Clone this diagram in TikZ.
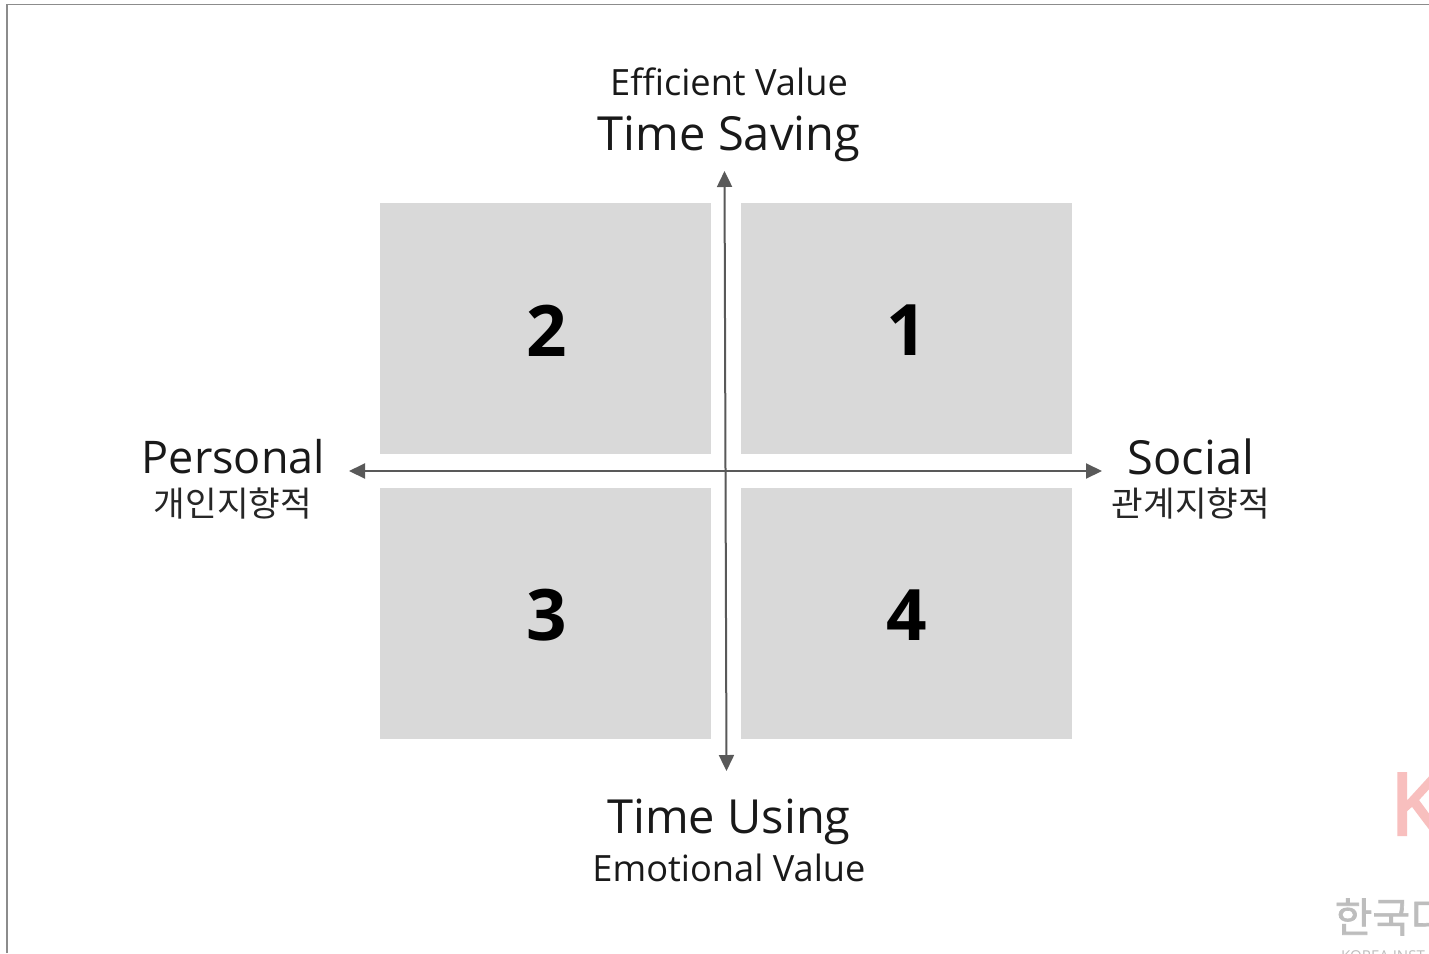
\documentclass[tikz,border=0pt]{standalone}
\usepackage{fontspec}
\setmainfont{Open Sans}
\newfontfamily\krfont{Noto Sans CJK KR}
\newfontfamily\logokr[FakeBold=1.5]{Noto Sans CJK KR}
\newfontfamily\logofont[FakeBold=3]{Open Sans}
\usetikzlibrary{arrows.meta}
\definecolor{boxgray}{HTML}{D9D9D9}
\definecolor{axisgray}{HTML}{595959}
\definecolor{logopink}{HTML}{F8BFBE}
\definecolor{logogray}{HTML}{BDBDBD}
\tikzset{
  quad/.style={fill=boxgray,draw=none,minimum width=331pt,minimum height=251pt,inner sep=0pt},
  digit/.style={font=\fontsize{71}{71}\selectfont\bfseries,text=black,inner sep=0pt},
  axisline/.style={draw=axisgray,line width=2pt,{Triangle[length=16pt,width=15pt]}-{Triangle[length=16pt,width=15pt]}},
  big/.style={font=\fontsize{47}{47}\selectfont,inner sep=0pt,text=black!90},
  bigb/.style={font=\fontsize{45}{45}\selectfont,inner sep=0pt,text=black!90},
  small/.style={font=\fontsize{36.2}{36.2}\selectfont,inner sep=0pt,text=black!90},
  kr/.style={font=\fontsize{34.4}{34.4}\selectfont\krfont,inner sep=0pt,text=black!85},
}
\begin{document}
\begin{tikzpicture}[x=1pt,y=-1pt]
\useasboundingbox (0,0) rectangle (1429,953);
\clip (0,0) rectangle (1429,953);
\fill[white] (0,0) rectangle (1429,953);
\draw[draw=black!45,line width=1.4pt] (7,953) -- (7,4.5) -- (1429,4.5);
\node[quad] (q2) at (545.5,328.5) {};
\node[quad] (q1) at (906.5,328.5) {};
\node[quad] (q3) at (545.5,613.5) {};
\node[quad] (q4) at (906.5,613.5) {};
\node[digit] (d2) at (546.5,330.5) {2};
\node[digit] (d1) at (906.5,330.5) {1};
\node[digit] (d3) at (546.5,615.5) {3};
\node[digit] (d4) at (907,615.5) {4};
\coordinate (top) at (724.5,171);
\coordinate (bottom) at (726.5,771);
\coordinate (left) at (349,471);
\coordinate (right) at (1102,471);
\draw[axisline] (bottom) -- (top);
\draw[axisline] (left) -- (right);
\node[small] (ev) at (729,81.5) {Efficient Value};
\node[big] (ts) at (729,139) {Time Saving};
\node[big] (tu) at (729,822) {Time Using};
\node[small] (emv) at (729,867.5) {Emotional Value};
\node[bigb] (per) at (233.5,456.5) {Personal};
\node[kr] (perk) at (233,503) {개인지향적};
\node[big] (soc) at (1191,456.5) {Social};
\node[kr] (sock) at (1191,503) {관계지향적};
\node[anchor=west,inner sep=0pt,text=logopink,font=\fontsize{86}{86}\selectfont\logofont] (logok) at (1390,804) {K};
\node[anchor=west,inner sep=0pt,text=logogray,font=\fontsize{41}{41}\selectfont\logokr] (logot) at (1334.5,917) {한국디};
\node[anchor=west,inner sep=0pt,text=logogray,font=\fontsize{15}{15}\selectfont] (logoe) at (1341,956) {KOREA INST};
\end{tikzpicture}
\end{document}
